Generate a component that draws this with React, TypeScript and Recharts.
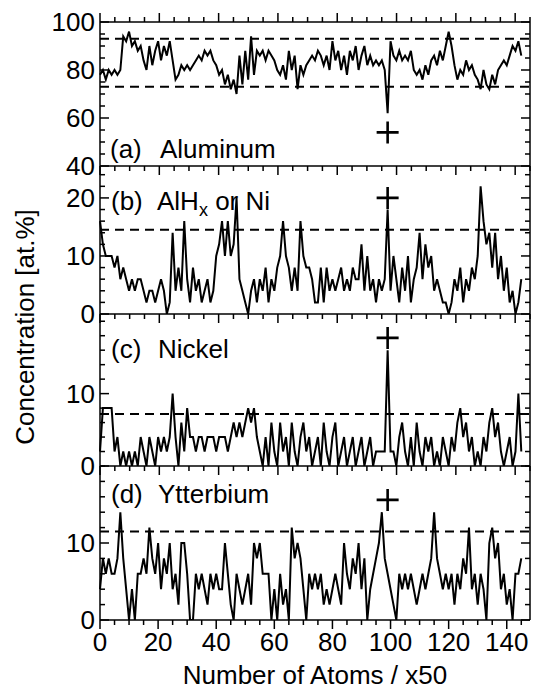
import React from 'react';
import { LineChart, Line, XAxis, YAxis, ReferenceLine, ReferenceDot } from 'recharts';

// (a) Aluminum, at.% per block of 50 atoms (x = 0..145)
const aluminum = [
  78, 80, 76, 80, 78, 80, 78, 80, 94, 92,
  96, 90, 92, 88, 90, 84, 80, 90, 82, 88,
  92, 84, 90, 86, 92, 84, 76, 78, 82, 80,
  82, 80, 82, 84, 86, 84, 88, 86, 88, 84,
  82, 78, 80, 74, 78, 72, 76, 70, 86, 74,
  88, 76, 94, 78, 88, 86, 88, 84, 88, 86,
  84, 80, 78, 82, 76, 88, 80, 86, 72, 82,
  78, 82, 84, 86, 84, 88, 86, 82, 86, 80,
  92, 84, 88, 80, 86, 78, 88, 84, 90, 80,
  86, 90, 82, 86, 82, 84, 82, 84, 80, 62,
  92, 86, 84, 88, 84, 86, 84, 88, 80, 78,
  80, 76, 82, 78, 84, 86, 82, 88, 84, 90,
  96, 90, 82, 76, 80, 78, 84, 80, 82, 78,
  76, 72, 80, 74, 72, 78, 74, 80, 82, 84,
  82, 86, 90, 88, 92, 86,
];

// (b) AlHx or Ni
const alhxOrNi = [
  16, 12, 10, 10, 10, 8, 10, 6, 8, 6,
  4, 6, 4, 6, 6, 4, 2, 4, 4, 2,
  4, 6, 4, 0, 2, 14, 4, 8, 4, 16,
  6, 2, 8, 4, 6, 2, 4, 6, 2, 4,
  10, 12, 16, 10, 16, 10, 12, 20, 6, 4,
  2, 0, 4, 6, 2, 6, 4, 8, 2, 6,
  4, 8, 10, 16, 10, 8, 4, 8, 4, 16,
  10, 8, 8, 6, 2, 2, 8, 2, 8, 4,
  6, 4, 6, 8, 4, 6, 4, 8, 6, 6,
  12, 4, 10, 4, 6, 2, 6, 4, 6, 18,
  4, 10, 6, 2, 8, 4, 10, 2, 6, 8,
  14, 6, 12, 8, 10, 4, 6, 4, 2, 2,
  0, 2, 6, 4, 8, 2, 6, 4, 8, 6,
  10, 22, 16, 12, 14, 8, 14, 6, 10, 4,
  8, 2, 4, 0, 2, 6,
];

// (c) Nickel
const nickel = [
  2, 8, 8, 8, 8, 2, 4, 0, 2, 0,
  2, 0, 2, 0, 4, 2, 0, 4, 2, 0,
  4, 2, 4, 2, 4, 10, 4, 0, 6, 2,
  8, 4, 4, 2, 4, 4, 2, 4, 4, 4,
  2, 4, 4, 4, 2, 4, 6, 4, 6, 4,
  6, 8, 6, 8, 4, 2, 0, 4, 0, 6,
  2, 0, 6, 2, 4, 0, 6, 2, 0, 4,
  6, 2, 4, 0, 2, 4, 0, 6, 2, 0,
  4, 6, 0, 2, 4, 0, 2, 4, 0, 2,
  4, 0, 2, 4, 0, 2, 2, 2, 2, 16,
  2, 2, 0, 4, 6, 2, 0, 4, 0, 6,
  2, 0, 4, 2, 4, 0, 2, 0, 4, 2,
  0, 4, 2, 6, 8, 4, 6, 2, 4, 0,
  2, 0, 4, 2, 6, 8, 4, 6, 2, 0,
  2, 4, 0, 2, 10, 2,
];

// (d) Ytterbium
const ytterbium = [
  4, 8, 6, 8, 6, 6, 8, 14, 8, 4,
  0, 4, 0, 6, 6, 8, 6, 12, 8, 6,
  10, 4, 8, 6, 10, 4, 6, 2, 10, 10,
  6, 0, 0, 6, 4, 6, 4, 2, 6, 4,
  6, 4, 4, 10, 6, 2, 0, 6, 4, 2,
  4, 6, 2, 10, 8, 10, 6, 6, 6, 0,
  4, 0, 6, 2, 4, 0, 12, 8, 10, 8,
  4, 0, 6, 4, 6, 4, 6, 2, 4, 2,
  4, 6, 4, 2, 10, 6, 4, 8, 6, 10,
  4, 8, 0, 4, 6, 8, 10, 14, 8, 6,
  4, 2, 0, 6, 4, 6, 4, 6, 4, 2,
  4, 6, 4, 6, 8, 14, 8, 6, 4, 6,
  4, 6, 2, 6, 4, 8, 6, 12, 4, 6,
  2, 6, 4, 0, 10, 12, 8, 10, 4, 6,
  2, 4, 0, 6, 6, 8,
];

const xMajorTicks = [0, 20, 40, 60, 80, 100, 120, 140];
const xMinorTicks = [0, 5, 10, 15, 20, 25, 30, 35, 40, 45, 50, 55, 60, 65, 70, 75, 80, 85, 90, 95, 100, 105, 110, 115, 120, 125, 130, 135, 140, 145];

const aMajor = [40, 60, 80, 100];
const aMinor = [40, 45, 50, 55, 60, 65, 70, 75, 80, 85, 90, 95, 100];
const bMajor = [0, 10, 20];
const bMinor = [0, 2, 4, 6, 8, 10, 12, 14, 16, 18, 20, 22, 24];
const cMajor = [0, 10];
const cMinor = [0, 2, 4, 6, 8, 10, 12, 14, 16, 18, 20];
const dMajor = [0, 10];
const dMinor = [0, 2, 4, 6, 8, 10, 12, 14, 16, 18, 20];

const aDashed = [73, 93];
const bDashed = [14.5];
const cDashed = [7.2];
const dDashed = [11.5];

const crossX = 99;
const crossY = [54, 20, 17.7, 15.6];

const FONT = "'Liberation Sans', Arial, Helvetica, sans-serif";
const X_DOMAIN: [number, number] = [0, 148];
const lineStyle = { stroke: '#000', strokeWidth: 1.5 };
const MAJOR_LEN = 9;
const MINOR_LEN = 5;

const Cross = (props: any) => {
  const { cx, cy } = props;
  return (
    <path
      d={`M${cx - 11} ${cy}H${cx + 11}M${cx} ${cy - 11}V${cy + 11}`}
      stroke="#000"
      strokeWidth={2.6}
      fill="none"
    />
  );
};

const LeftTick = (props: any) => {
  const { x, y, payload, majors } = props;
  const isMajor = majors.includes(payload.value);
  return (
    <g>
      <line x1={x} x2={x + (isMajor ? MAJOR_LEN : MINOR_LEN)} y1={y} y2={y} stroke="#000" strokeWidth={1.5} />
      {isMajor && (
        <text x={x - 5} y={y} dy="0.36em" textAnchor="end" fill="#000" fontSize={26} fontFamily={FONT}>
          {payload.value}
        </text>
      )}
    </g>
  );
};

const RightTick = (props: any) => {
  const { x, y, payload, majors } = props;
  const isMajor = majors.includes(payload.value);
  return <line x1={x} x2={x - (isMajor ? MAJOR_LEN : MINOR_LEN)} y1={y} y2={y} stroke="#000" strokeWidth={1.5} />;
};

const TopTick = (props: any) => {
  const { x, y, payload, dir } = props;
  const isMajor = xMajorTicks.includes(payload.value);
  const len = isMajor ? MAJOR_LEN : MINOR_LEN;
  return <line x1={x} x2={x} y1={y} y2={y + dir * len} stroke="#000" strokeWidth={1.5} />;
};

const BottomTick = (props: any) => {
  const { x, y, payload } = props;
  const isMajor = xMajorTicks.includes(payload.value);
  return (
    <g>
      <line x1={x} x2={x} y1={y} y2={y + (isMajor ? MAJOR_LEN : MINOR_LEN)} stroke="#000" strokeWidth={1.5} />
      {isMajor && (
        <text x={x} y={y + 13} dy="0.71em" textAnchor="middle" fill="#000" fontSize={26} fontFamily={FONT}>
          {payload.value}
        </text>
      )}
    </g>
  );
};

type PanelProps = {
  values: number[];
  domain: [number, number];
  major: number[];
  minor: number[];
  dashed: number[];
  cross: number;
  plotTop: number;
  plotH: number;
  first?: boolean;
  last?: boolean;
};

function Panel(p: PanelProps) {
  const mTop = p.first ? p.plotTop : 20;
  const xAxisH = p.last ? 60 : 0;
  const mBottom = p.last ? 10 : 20;
  const chartTop = p.plotTop - mTop;
  const height = mTop + p.plotH + xAxisH + mBottom;
  const data = p.values.map((v, i) => ({ x: i, v }));
  return (
    <div style={{ position: 'absolute', left: 0, top: chartTop }}>
      <LineChart
        width={533}
        height={height}
        data={data}
        margin={{ top: mTop, right: 3, bottom: mBottom, left: 0 }}
      >
        <XAxis
          xAxisId="main"
          dataKey="x"
          type="number"
          domain={X_DOMAIN}
          ticks={xMinorTicks}
          interval={0}
          hide={!p.last}
          height={xAxisH || 1}
          tickSize={0}
          tickMargin={0}
          axisLine={lineStyle}
          tickLine={false}
          tick={(tp: any) => <BottomTick {...tp} />}
        />
        <XAxis
          xAxisId="top"
          orientation="top"
          mirror
          type="number"
          domain={X_DOMAIN}
          ticks={xMinorTicks}
          interval={0}
          height={1}
          tickSize={0}
          tickMargin={0}
          axisLine={lineStyle}
          tickLine={false}
          tick={(tp: any) => <TopTick {...tp} dir={p.first ? -1 : 1} />}
        />
        <YAxis
          yAxisId="L"
          orientation="left"
          type="number"
          width={100}
          domain={p.domain}
          ticks={p.minor}
          interval={0}
          tickSize={0}
          tickMargin={0}
          axisLine={lineStyle}
          tickLine={false}
          tick={(tp: any) => <LeftTick {...tp} majors={p.major} />}
          allowDataOverflow
        />
        <YAxis
          yAxisId="R"
          orientation="right"
          mirror
          width={1}
          type="number"
          domain={p.domain}
          ticks={p.minor}
          interval={0}
          tickSize={0}
          tickMargin={0}
          axisLine={lineStyle}
          tickLine={false}
          tick={(tp: any) => <RightTick {...tp} majors={p.major} />}
          allowDataOverflow
        />
        {p.dashed.map((d) => (
          <ReferenceLine
            key={d}
            xAxisId="main"
            yAxisId="L"
            y={d}
            stroke="#000"
            strokeWidth={2}
            strokeDasharray="9 6"
          />
        ))}
        <Line
          xAxisId="main"
          yAxisId="L"
          dataKey="v"
          type="linear"
          stroke="#000"
          strokeWidth={2}
          dot={false}
          isAnimationActive={false}
        />
        <ReferenceDot xAxisId="main" yAxisId="L" x={crossX} y={p.cross} r={10} shape={Cross} />
      </LineChart>
    </div>
  );
}

export default function App() {
  return (
    <div
      style={{
        position: 'absolute',
        left: 0,
        top: 0,
        width: 533,
        height: 690,
        background: '#fff',
        fontFamily: FONT,
      }}
    >
      <Panel values={aluminum} domain={[40, 100]} major={aMajor} minor={aMinor} dashed={aDashed} cross={crossY[0]} plotTop={22} plotH={144} first />
      <Panel values={alhxOrNi} domain={[0, 25.5]} major={bMajor} minor={bMinor} dashed={bDashed} cross={crossY[1]} plotTop={166} plotH={148} />
      <Panel values={nickel} domain={[0, 21]} major={cMajor} minor={cMinor} dashed={cDashed} cross={crossY[2]} plotTop={314} plotH={152} />
      <Panel values={ytterbium} domain={[0, 20]} major={dMajor} minor={dMinor} dashed={dDashed} cross={crossY[3]} plotTop={466} plotH={154} last />
      <svg
        width={533}
        height={690}
        style={{ position: 'absolute', left: 0, top: 0, pointerEvents: 'none' }}
        fontFamily={FONT}
        fontSize={26}
        fill="#000"
      >
        <text transform="translate(34,327) rotate(-90)" textAnchor="middle">Concentration [at.%]</text>
        <text x={315} y={684} textAnchor="middle">Number of Atoms / x50</text>
        <text x={110} y={158}>(a)</text>
        <text x={160} y={158}>Aluminum</text>
        <text x={111} y={210}>(b)</text>
        <text x={157} y={210}>
          AlH<tspan fontSize={18} dy={6}>x</tspan>
          <tspan dy={-6}>{' or Ni'}</tspan>
        </text>
        <text x={111} y={358}>(c)</text>
        <text x={158} y={358}>Nickel</text>
        <text x={111} y={503}>(d)</text>
        <text x={158} y={503}>Ytterbium</text>
      </svg>
    </div>
  );
}
